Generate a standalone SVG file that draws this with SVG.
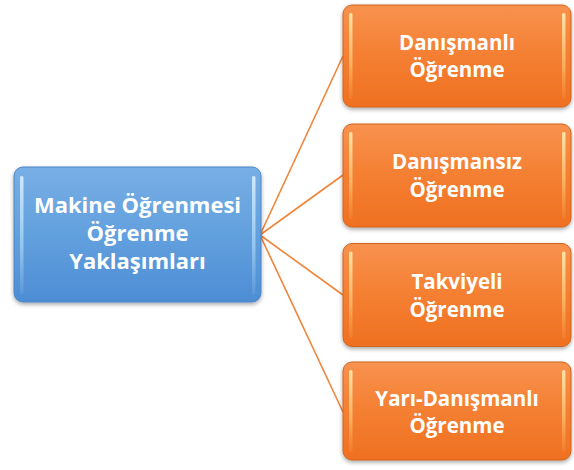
<svg xmlns="http://www.w3.org/2000/svg" width="574" height="470" viewBox="0 0 574 470">
<defs>
<linearGradient id="gB" x1="0" y1="0" x2="0" y2="1">
<stop offset="0" stop-color="#78afe5"/>
<stop offset="0.5" stop-color="#62a0de"/>
<stop offset="1" stop-color="#4e8dd4"/>
</linearGradient>
<linearGradient id="gO" x1="0" y1="0" x2="0" y2="1">
<stop offset="0" stop-color="#f8924e"/>
<stop offset="0.5" stop-color="#f47f32"/>
<stop offset="1" stop-color="#ef7020"/>
</linearGradient>
<linearGradient id="hB" x1="0" y1="0" x2="0" y2="1">
<stop offset="0" stop-color="#d8f0ff" stop-opacity="0.9"/>
<stop offset="0.6" stop-color="#b8e0fb" stop-opacity="0.6"/>
<stop offset="1" stop-color="#a0d0f8" stop-opacity="0.15"/>
</linearGradient>
<linearGradient id="hO" x1="0" y1="0" x2="0" y2="1">
<stop offset="0" stop-color="#ffe6a8" stop-opacity="0.95"/>
<stop offset="0.6" stop-color="#ffd080" stop-opacity="0.6"/>
<stop offset="1" stop-color="#ffb060" stop-opacity="0.15"/>
</linearGradient>
<filter id="sh" x="-10%" y="-10%" width="120%" height="130%">
<feGaussianBlur in="SourceAlpha" stdDeviation="2"/>
<feOffset dx="0" dy="2" result="b"/>
<feComponentTransfer><feFuncA type="linear" slope="0.35"/></feComponentTransfer>
<feMerge><feMergeNode/><feMergeNode in="SourceGraphic"/></feMerge>
</filter>
</defs>
<style>
.t{font-family:"Open Sans","Liberation Sans",sans-serif;font-weight:bold;font-size:20.5px;fill:#ffffff;text-anchor:middle}
.tb{font-size:22px}
.bb{fill:url(#gB);stroke:#4a86c8;stroke-width:1}
.bo{fill:url(#gO);stroke:#d0651e;stroke-width:1}
.hb{fill:url(#hB)}
.ho{fill:url(#hO)}
.c{stroke:#f0843a;stroke-width:1.6;fill:none}
</style>
<g id="connectors">
<line class="c" x1="260" y1="235" x2="343" y2="56"/>
<line class="c" x1="260" y1="235" x2="343" y2="175"/>
<line class="c" x1="260" y1="235" x2="343" y2="295"/>
<line class="c" x1="260" y1="235" x2="343" y2="412"/>
</g>
<g id="root">
<rect class="bb" x="14" y="167" width="247" height="135" rx="9" filter="url(#sh)"/>
<rect class="hb" x="20" y="176" width="3.5" height="118" rx="1.5"/>
<rect class="hb" x="252" y="176" width="3.5" height="118" rx="1.5"/>
<text class="t tb" x="137.5" y="213">Makine Öğrenmesi</text>
<text class="t tb" x="137.5" y="241">Öğrenme</text>
<text class="t tb" x="137.5" y="269">Yaklaşımları</text>
</g>
<g id="n1">
<rect class="bo" x="343" y="5" width="228" height="102" rx="9" filter="url(#sh)"/>
<rect class="ho" x="349" y="13" width="3.5" height="86" rx="1.5"/>
<rect class="ho" x="562" y="13" width="3.5" height="86" rx="1.5"/>
<text class="t" x="457" y="50">Danışmanlı</text>
<text class="t" x="457" y="77">Öğrenme</text>
</g>
<g id="n2">
<rect class="bo" x="343" y="124" width="228" height="103" rx="9" filter="url(#sh)"/>
<rect class="ho" x="349" y="132" width="3.5" height="87" rx="1.5"/>
<rect class="ho" x="562" y="132" width="3.5" height="87" rx="1.5"/>
<text class="t" x="457" y="169">Danışmansız</text>
<text class="t" x="457" y="197">Öğrenme</text>
</g>
<g id="n3">
<rect class="bo" x="343" y="243.5" width="228" height="103" rx="9" filter="url(#sh)"/>
<rect class="ho" x="349" y="251.5" width="3.5" height="87" rx="1.5"/>
<rect class="ho" x="562" y="251.5" width="3.5" height="87" rx="1.5"/>
<text class="t" x="457" y="289">Takviyeli</text>
<text class="t" x="457" y="317">Öğrenme</text>
</g>
<g id="n4">
<rect class="bo" x="343" y="362" width="228" height="98" rx="9" filter="url(#sh)"/>
<rect class="ho" x="349" y="370" width="3.5" height="82" rx="1.5"/>
<rect class="ho" x="562" y="370" width="3.5" height="82" rx="1.5"/>
<text class="t" x="457" y="406">Yarı-Danışmanlı</text>
<text class="t" x="457" y="433">Öğrenme</text>
</g>
</svg>
